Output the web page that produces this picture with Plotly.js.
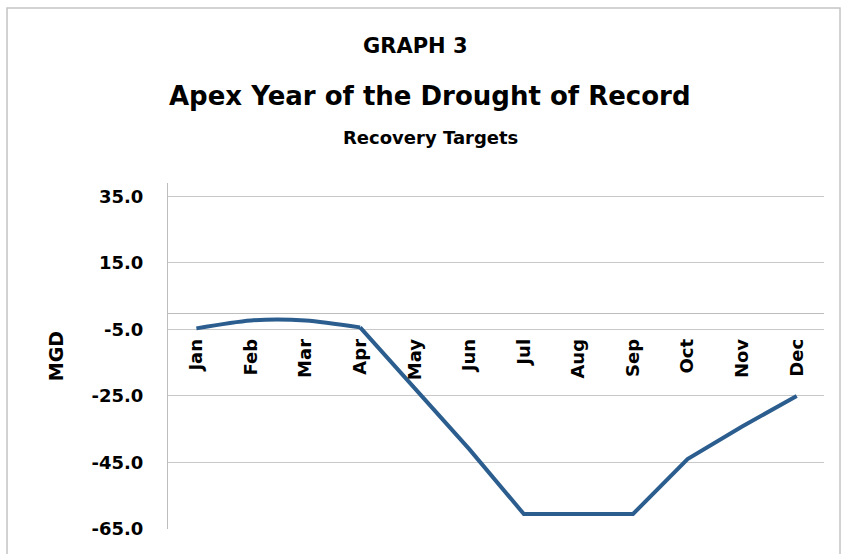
<!DOCTYPE html>
<html>
<head>
<meta charset="utf-8">
<script src="https://cdn.plot.ly/plotly-3.0.1.min.js"></script>
<style>
html,body{margin:0;padding:0;background:#fff;}
#chart{width:843px;height:554px;}
</style>
</head>
<body>
<div id="chart"></div>
<script>
const months = ["Jan","Feb","Mar","Apr","May","Jun","Jul","Aug","Sep","Oct","Nov","Dec"];
const mgd = [-4.7, -2.3, -2.3, -4.4, -22.7, -41.0, -60.5, -60.5, -60.5, -44.0, -34.2, -25.0];
const yTickVals = [-65, -45, -25, -5, 15, 35];
const yTickText = ["-65.0", "-45.0", "-25.0", "-5.0", "15.0", "35.0"];
const titleLines = ["GRAPH 3", "Apex Year of the Drought of Record", "Recovery Targets"];
const yTitle = "MGD";

const FONT = "DejaVu Sans, Verdana, sans-serif";
const LINE_COLOR = "#2b5d8e";

// Smooth early-year segment (Jan–Apr), straight segments for the rest
const traceEarly = {
  x: months.slice(0, 4),
  y: mgd.slice(0, 4),
  type: "scatter",
  mode: "lines",
  line: {color: LINE_COLOR, width: 4, shape: "spline", smoothing: 0.8},
  hoverinfo: "x+y"
};
const traceLate = {
  x: months.slice(3),
  y: mgd.slice(3),
  type: "scatter",
  mode: "lines",
  line: {color: LINE_COLOR, width: 4, shape: "linear"},
  hoverinfo: "x+y"
};

const layout = {
  width: 843,
  height: 554,
  paper_bgcolor: "#ffffff",
  plot_bgcolor: "#ffffff",
  margin: {l: 168, r: 19, t: 183, b: 25},
  showlegend: false,
  xaxis: {
    type: "category",
    categoryarray: months,
    categoryorder: "array",
    range: [-0.52, 11.5],
    anchor: "free",
    position: 0.625,
    showgrid: false,
    zeroline: false,
    showline: true,
    linecolor: "#bdbdbd",
    linewidth: 1,
    ticks: "",
    tickangle: -90,
    ticklabelstandoff: 18,
    tickfont: {family: FONT, size: 18, color: "#000", weight: "bold"},
    layer: "above traces"
  },
  yaxis: {
    range: [-65, 39],
    tickmode: "array",
    tickvals: yTickVals,
    ticktext: yTickText,
    showgrid: true,
    gridcolor: "#c8c8c8",
    gridwidth: 1,
    zeroline: false,
    showline: true,
    linecolor: "#bdbdbd",
    linewidth: 1,
    ticks: "",
    ticklabelstandoff: 20,
    tickfont: {family: FONT, size: 18, color: "#000", weight: "bold"},
    title: {text: yTitle, standoff: 22, font: {family: FONT, size: 19, color: "#000", weight: "bold"}}
  },
  annotations: [
    {text: titleLines[0], xref: "paper", yref: "paper", x: 0.378, y: 1, yshift: 137, xanchor: "center", yanchor: "middle", showarrow: false,
     font: {family: FONT, size: 21, color: "#000", weight: "bold"}},
    {text: titleLines[1], xref: "paper", yref: "paper", x: 0.4, y: 1, yshift: 87, xanchor: "center", yanchor: "middle", showarrow: false,
     font: {family: FONT, size: 26, color: "#000", weight: "bold"}},
    {text: titleLines[2], xref: "paper", yref: "paper", x: 0.4, y: 1, yshift: 46, xanchor: "center", yanchor: "middle", showarrow: false,
     font: {family: FONT, size: 18, color: "#000", weight: "bold"}}
  ],
  shapes: [
    {type: "rect", xref: "paper", yref: "paper", x0: -0.2454, x1: 1.0244, y0: -0.12, y1: 1.5058,
     line: {color: "#c4c4c4", width: 1.5}, layer: "below"}
  ]
};

Plotly.newPlot("chart", [traceEarly, traceLate], layout, {displayModeBar: false, staticPlot: true});
</script>
</body>
</html>
